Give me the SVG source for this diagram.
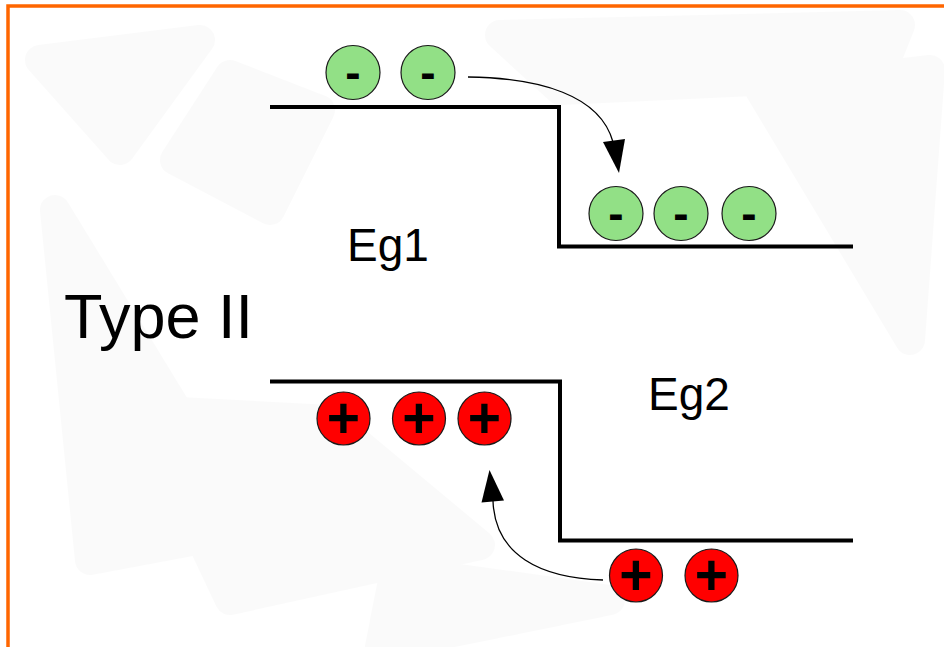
<svg xmlns="http://www.w3.org/2000/svg" width="944" height="647" viewBox="0 0 944 647">
<style>
.band{fill:none;stroke:#000;stroke-width:4;stroke-linejoin:miter}
.e{fill:#92e086;stroke:#1a1a1a;stroke-width:1.2}
.h{fill:#ff0000;stroke:#1a1a1a;stroke-width:1.2}
.sym{font-family:"Liberation Sans",Arial,sans-serif;font-weight:bold;font-size:46px;text-anchor:middle;fill:#000}
.plus{font-family:"Liberation Sans",Arial,sans-serif;font-weight:bold;font-size:57px;text-anchor:middle;fill:#000}
.lbl{font-family:"Liberation Sans",Arial,sans-serif;font-size:46px;fill:#000}
.arc{fill:none;stroke:#000;stroke-width:1.3}
.bg{fill:#f6f6f6;stroke:#f6f6f6;stroke-width:30;stroke-linejoin:round}
</style>
<rect width="944" height="647" fill="#fff"/>
<g id="background" opacity="0.45">
<polygon class="bg" points="500,35 900,25 880,75 560,90"/>
<polygon class="bg" points="230,75 175,160 270,210 320,110"/>
<polygon class="bg" points="760,90 930,70 910,340"/>
<polygon class="bg" points="55,210 90,560 250,530"/>
<polygon class="bg" points="140,410 230,600 480,545 330,420"/>
<polygon class="bg" points="395,570 610,600 380,647"/>
<polygon class="bg" points="40,60 200,40 120,150"/>
</g>
<path d="M8,647 V6 H944" fill="none" stroke="#ff6600" stroke-width="3.5"/>
<g id="conduction-band">
<path class="band" d="M270,107 H559 V246.5 H853"/>
</g>
<g id="valence-band">
<path class="band" d="M270,381.5 H560 V540.5 H853"/>
</g>
<g id="label-type">
<text class="lbl" x="64" y="338" style="font-size:63px">Type II</text>
</g>
<g id="label-eg1"><text class="lbl" x="347" y="261">Eg1</text></g>
<g id="label-eg2"><text class="lbl" x="648" y="410">Eg2</text></g>
<g id="electron-1"><circle class="e" cx="353" cy="72.5" r="27"/><text class="sym" x="353" y="88">-</text></g>
<g id="electron-2"><circle class="e" cx="428" cy="72.5" r="27"/><text class="sym" x="428" y="88">-</text></g>
<g id="electron-3"><circle class="e" cx="616" cy="213.5" r="27"/><text class="sym" x="616" y="229">-</text></g>
<g id="electron-4"><circle class="e" cx="681" cy="213.5" r="27"/><text class="sym" x="681" y="229">-</text></g>
<g id="electron-5"><circle class="e" cx="749" cy="213.5" r="27"/><text class="sym" x="749" y="229">-</text></g>
<g id="hole-1"><circle class="h" cx="343.5" cy="418.5" r="26.5"/><text class="plus" x="343.5" y="437.5">+</text></g>
<g id="hole-2"><circle class="h" cx="419" cy="418.5" r="26.5"/><text class="plus" x="419" y="437.5">+</text></g>
<g id="hole-3"><circle class="h" cx="484.5" cy="418.5" r="26.5"/><text class="plus" x="484.5" y="437.5">+</text></g>
<g id="hole-4"><circle class="h" cx="636" cy="575.5" r="26.5"/><text class="plus" x="636" y="594.5">+</text></g>
<g id="hole-5"><circle class="h" cx="711.5" cy="575.5" r="26.5"/><text class="plus" x="711.5" y="594.5">+</text></g>
<g id="connectors">
<path class="arc" d="M468,77 C540,78 600,95 613,142"/>
<polygon points="603,142 625,139 619,173" fill="#000"/>
<path class="arc" d="M603,580 C540,578 495,555 493,501"/>
<polygon points="481.5,502.5 504,500.5 489.5,470" fill="#000"/>
</g>
</svg>
